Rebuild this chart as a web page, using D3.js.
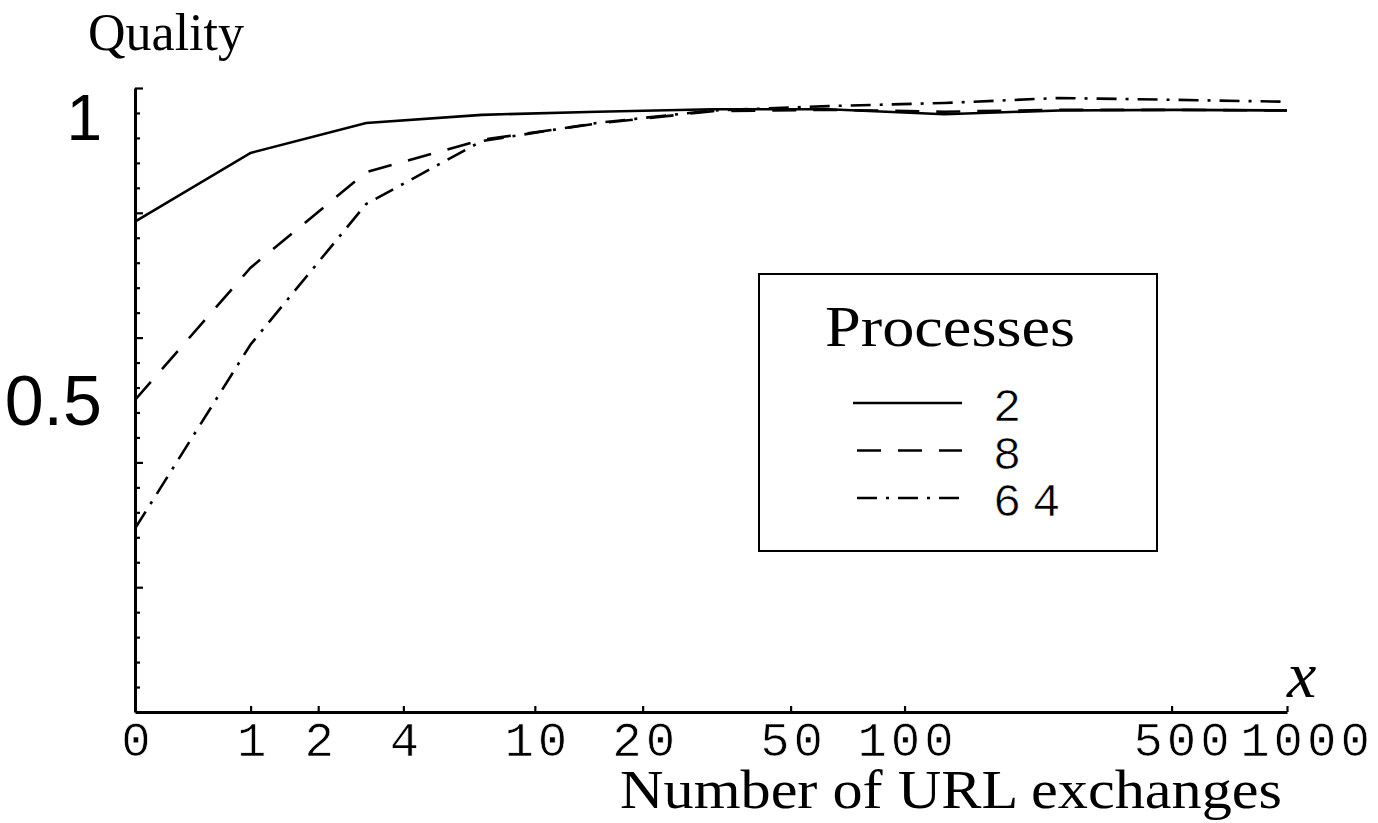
<!DOCTYPE html>
<html>
<head>
<meta charset="utf-8">
<script src="https://cdn.jsdelivr.net/npm/d3@7"></script>
<style>
  body { margin: 0; background: #fff; }
  svg { display: block; }
</style>
</head>
<body>
<div id="chart"></div>
<script>
// exchanges (x) and quality for each number of processes
const exchanges = [0, 1, 3, 7, 15, 31, 63, 127, 255, 511, 1000];
const proc2  = [0.786, 0.896, 0.944, 0.957, 0.962, 0.966, 0.966, 0.958, 0.964, 0.965, 0.964];
const proc8  = [0.500, 0.712, 0.865, 0.917, 0.943, 0.963, 0.965, 0.962, 0.965, 0.965, 0.964];
const proc64 = [0.294, 0.589, 0.814, 0.915, 0.944, 0.964, 0.971, 0.976, 0.984, 0.981, 0.978];

const seriesNames = ["2", "8", "64"];
const xTickValues = [0, 1, 2, 4, 10, 20, 50, 100, 500, 1000];
const yTickLabels = ["1", "0.5"];
const yTickValues = [1, 0.5];

const width = 1378, height = 823;
const svg = d3.select("#chart").append("svg")
    .attr("width", width)
    .attr("height", height);

const x = d3.scaleSymlog().constant(1)
    .domain([0, 1000])
    .range([135, 1287]);
const y = d3.scaleLinear()
    .domain([0, 1])
    .range([712, 88]);

const serif = "'Liberation Serif', 'DejaVu Serif', serif";
const mono = "'Liberation Mono', 'DejaVu Sans Mono', monospace";
const sans = "'Liberation Sans', Arial, sans-serif";

// y axis, ticks pointing inward
let minor = d3.range(1, 26).map(k => k * 0.04);
svg.append("g")
    .attr("transform", "translate(" + x(0) + ",0)")
    .call(d3.axisLeft(y).tickValues(minor.filter((d, i) => (i + 1) % 5 != 0))
        .tickSize(-5).tickSizeOuter(0).tickFormat(""))
    .call(g => g.select(".domain").remove())
    .selectAll("line").attr("stroke-width", 2.2);
svg.append("g")
    .attr("transform", "translate(" + x(0) + ",0)")
    .call(d3.axisLeft(y).tickValues(minor.filter((d, i) => (i + 1) % 5 == 0))
        .tickSize(-8).tickSizeOuter(0).tickFormat(""))
    .call(g => g.select(".domain").attr("stroke-width", 3))
    .selectAll("line").attr("stroke-width", 2.2);

// x axis
svg.append("g")
    .attr("transform", "translate(0," + y(0) + ")")
    .call(d3.axisBottom(x).tickValues(xTickValues)
        .tickSize(-6).tickSizeOuter(0).tickFormat(""))
    .call(g => g.select(".domain").attr("stroke-width", 3))
    .selectAll("line").attr("stroke-width", 2.2);

// the last two labels are pushed right in the original so they don't collide
svg.append("g").selectAll("text")
    .data(xTickValues)
    .enter().append("text")
    .attr("x", d => x(d) + (d == 1000 ? 20 : d == 500 ? 12 : 3))
    .attr("y", 756)
    .attr("text-anchor", "middle")
    .attr("font-family", mono)
    .attr("font-size", 49)
    .attr("letter-spacing", 4)
    .attr("stroke", "#fff")
    .attr("stroke-width", 0.7)
    .text(d => d);

// y labels (placed by hand in the original, "1" sits a little low)
svg.append("g").selectAll("text")
    .data(yTickValues)
    .enter().append("text")
    .attr("x", 102)
    .attr("y", d => y(d))
    .attr("dy", (d, i) => i == 0 ? 52 : 25)
    .attr("text-anchor", "end")
    .attr("font-family", sans)
    .attr("font-size", (d, i) => i == 0 ? 64 : 70)
    .text((d, i) => yTickLabels[i]);

// axis titles
svg.append("text")
    .attr("x", 88).attr("y", 50)
    .attr("font-family", serif)
    .attr("font-size", 52)
    .text("Quality");

svg.append("text")
    .attr("x", 620).attr("y", 808)
    .attr("font-family", serif)
    .attr("font-size", 55)
    .attr("textLength", 662)
    .attr("lengthAdjust", "spacingAndGlyphs")
    .text("Number of URL exchanges");

svg.append("text")
    .attr("x", 1287).attr("y", 697)
    .attr("font-family", serif)
    .attr("font-style", "italic")
    .attr("font-size", 66)
    .text("x");

// lines
const dashes = ["none", "24,17", "20,9,3,9"];
const allSeries = [proc2, proc8, proc64];
let line = d3.line()
    .x((d, i) => x(exchanges[i]))
    .y(d => y(d));

svg.append("g").selectAll("path")
    .data(allSeries)
    .enter().append("path")
    .attr("d", line)
    .attr("fill", "none")
    .attr("stroke", "#000")
    .attr("stroke-width", 2.6)
    .attr("stroke-dasharray", (d, i) => dashes[i]);

// legend
let legend = svg.append("g");
legend.append("rect")
    .attr("x", 759).attr("y", 274)
    .attr("width", 398).attr("height", 277)
    .attr("fill", "#fff")
    .attr("stroke", "#000")
    .attr("stroke-width", 2);
legend.append("text")
    .attr("x", 825).attr("y", 346)
    .attr("font-family", serif)
    .attr("font-size", 56)
    .attr("textLength", 250)
    .attr("lengthAdjust", "spacingAndGlyphs")
    .text("Processes");

let rows = legend.selectAll("g.row")
    .data(seriesNames)
    .enter().append("g")
    .attr("class", "row")
    .attr("transform", (d, i) => "translate(0," + (403 + i * 47.5) + ")");
rows.append("line")
    .attr("x1", (d, i) => i == 0 ? 853 : 857)
    .attr("x2", 962)
    .attr("stroke", "#000")
    .attr("stroke-width", 2.4)
    .attr("stroke-dasharray", (d, i) => dashes[i]);
rows.append("text")
    .attr("x", 993).attr("y", 18)
    .attr("font-family", mono)
    .attr("font-size", 47)
    .attr("letter-spacing", 11)
    .attr("stroke", "#fff")
    .attr("stroke-width", 0.6)
    .text(d => d);
</script>
</body>
</html>
